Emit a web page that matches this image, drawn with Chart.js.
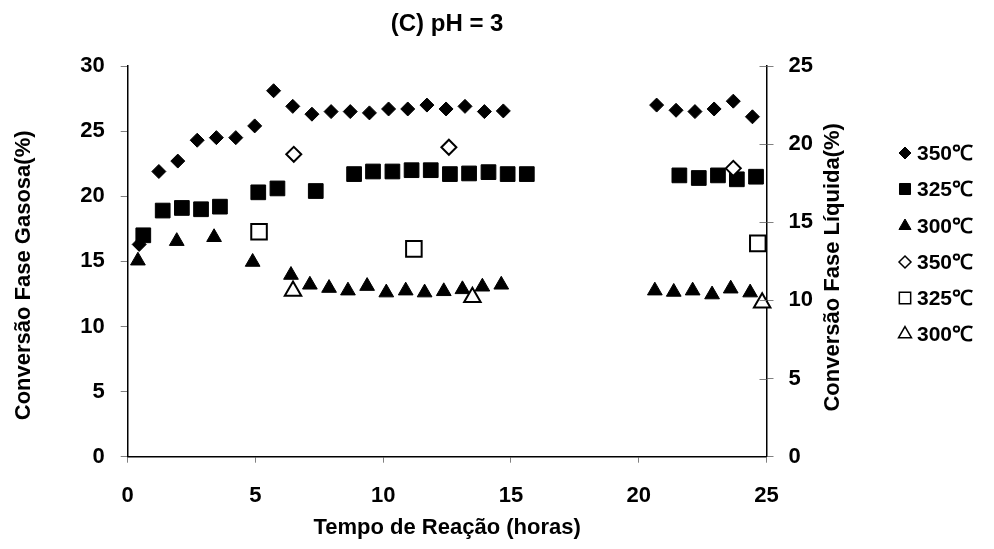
<!DOCTYPE html>
<html>
<head>
<meta charset="utf-8">
<script src="https://cdn.jsdelivr.net/npm/chart.js@4.4.0/dist/chart.umd.min.js"></script>
<style>
  html, body { margin: 0; padding: 0; background: #fff; }
  #wrap { width: 994px; height: 549px; }
</style>
</head>
<body>
<div id="wrap"><canvas id="chart" width="994" height="549"></canvas></div>
<script>
// gas phase conversion (left axis), filled markers
const gasTime350 = [0.45, 1.22, 1.96, 2.72, 3.47, 4.23, 4.97, 5.71, 6.46, 7.21, 7.96, 8.71, 9.46, 10.21, 10.96, 11.71, 12.46, 13.2, 13.96, 14.7, 20.7, 21.46, 22.2, 22.95, 23.7, 24.45];
const gasConv350 = [16.3, 21.9, 22.7, 24.3, 24.5, 24.5, 25.4, 28.1, 26.9, 26.3, 26.5, 26.5, 26.4, 26.7, 26.7, 27.0, 26.7, 26.9, 26.5, 26.55, 27.0, 26.6, 26.5, 26.7, 27.3, 26.1];

const gasTime325 = [0.61, 1.37, 2.12, 2.87, 3.61, 5.11, 5.86, 7.36, 8.86, 9.6, 10.36, 11.11, 11.86, 12.61, 13.36, 14.12, 14.87, 15.62, 21.59, 22.35, 23.1, 23.84, 24.59];
const gasConv325 = [17.0, 18.9, 19.1, 19.0, 19.2, 20.3, 20.6, 20.4, 21.7, 21.9, 21.9, 22.0, 22.0, 21.7, 21.75, 21.85, 21.7, 21.7, 21.6, 21.4, 21.6, 21.3, 21.5];

const gasTime300 = [0.4, 1.92, 3.38, 4.89, 6.39, 7.13, 7.88, 8.62, 9.37, 10.12, 10.88, 11.62, 12.37, 13.1, 13.88, 14.62, 20.63, 21.37, 22.11, 22.87, 23.6, 24.36];
const gasConv300 = [15.05, 16.55, 16.85, 14.95, 13.95, 13.2, 12.95, 12.75, 13.1, 12.6, 12.75, 12.6, 12.7, 12.85, 13.05, 13.2, 12.75, 12.65, 12.75, 12.45, 12.9, 12.6];

// liquid phase conversion (right axis), hollow markers
const liqTime350 = [6.5, 12.57, 23.7];
const liqConv350 = [19.35, 19.8, 18.45];
const liqTime325 = [5.14, 11.2, 24.66];
const liqConv325 = [14.4, 13.3, 13.65];
const liqTime300 = [6.47, 13.49, 24.83];
const liqConv300 = [10.6, 10.2, 9.85];

const legendLabels = ['350℃', '325℃', '300℃', '350℃', '325℃', '300℃'];
const xTicks = [0, 5, 10, 15, 20, 25];
const leftTicks = [0, 5, 10, 15, 20, 25, 30];
const rightTicks = [0, 5, 10, 15, 20, 25];

const chartTitle = '(C) pH = 3';
const xTitle = 'Tempo de Reação (horas)';
const leftTitle = 'Conversão Fase Gasosa(%)';
const rightTitle = 'Conversão Fase Líquida(%)';

const FONT = '"Liberation Sans", Arial, Helvetica, sans-serif';

function toPoints(xs, ys) {
    return xs.map((x, i) => ({ x: x, y: ys[i] }));
}

function filled(label, xs, ys, style, radius) {
    return {
        label: label,
        data: toPoints(xs, ys),
        yAxisID: 'y',
        pointStyle: style,
        pointRadius: radius,
        backgroundColor: '#000',
        borderColor: '#000',
        borderWidth: 1,
        showLine: false,
        clip: false,
        order: 1
    };
}

function hollow(label, xs, ys, style, radius) {
    return {
        label: label,
        data: toPoints(xs, ys),
        yAxisID: 'y2',
        pointStyle: style,
        pointRadius: radius,
        backgroundColor: '#fff',
        borderColor: '#000',
        borderWidth: 2,
        showLine: false,
        clip: false,
        order: 0
    };
}

const datasets = [
    filled(legendLabels[0], gasTime350, gasConv350, 'rectRot', 7),
    filled(legendLabels[1], gasTime325, gasConv325, 'rect', 10.4),
    filled(legendLabels[2], gasTime300, gasConv300, 'triangle', 8.5),
    hollow(legendLabels[3], liqTime350, liqConv350, 'rectRot', 7.5),
    hollow(legendLabels[4], liqTime325, liqConv325, 'rect', 11),
    hollow(legendLabels[5], liqTime300, liqConv300, 'triangle', 9.5)
];

// title, axis titles, legend and the inner half of the right axis ticks
const decorations = {
    id: 'decorations',
    afterDraw(chart) {
        const { ctx, chartArea: area, scales } = chart;
        ctx.save();

        ctx.strokeStyle = '#808080';
        ctx.lineWidth = 1;
        rightTicks.forEach(v => {
            const y = Math.round(scales.y2.getPixelForValue(v)) + 0.5;
            ctx.beginPath();
            ctx.moveTo(area.right - 7, y);
            ctx.lineTo(area.right, y);
            ctx.stroke();
        });

        ctx.fillStyle = '#000';
        ctx.textAlign = 'center';
        ctx.textBaseline = 'middle';
        const midX = (area.left + area.right) / 2;
        const midY = (area.top + area.bottom) / 2;

        ctx.font = 'bold 24px ' + FONT;
        ctx.fillText(chartTitle, midX, 24);

        ctx.font = 'bold 22px ' + FONT;
        ctx.fillText(xTitle, midX, 528);

        ctx.save();
        ctx.translate(24, midY + 14);
        ctx.rotate(-Math.PI / 2);
        ctx.fillText(leftTitle, 0, 0);
        ctx.restore();

        ctx.save();
        ctx.translate(833, midY + 6);
        ctx.rotate(-Math.PI / 2);
        ctx.fillText(rightTitle, 0, 0);
        ctx.restore();

        // legend
        const rowY = [153, 189, 226, 262, 298, 334];
        const legendSizes = [6, 7.8, 7, 6, 8, 7.5];
        ctx.font = 'bold 21px ' + FONT;
        ctx.textAlign = 'left';
        datasets.forEach((ds, i) => {
            const hollowMark = i >= 3;
            ctx.fillStyle = hollowMark ? '#fff' : '#000';
            ctx.strokeStyle = '#000';
            ctx.lineWidth = hollowMark ? 1.5 : 1;
            Chart.helpers.drawPoint(ctx, {
                pointStyle: ds.pointStyle,
                radius: legendSizes[i],
                rotation: 0,
                borderWidth: ctx.lineWidth
            }, 905, rowY[i]);
            ctx.fillStyle = '#000';
            ctx.fillText(ds.label, 917, rowY[i] + 1);
        });

        ctx.restore();
    }
};

const tickFont = { family: FONT, size: 22, weight: 'bold' };

new Chart(document.getElementById('chart'), {
    type: 'scatter',
    data: { datasets: datasets },
    options: {
        responsive: false,
        animation: false,
        events: [],
        layout: { padding: { top: 66, left: 0, right: 0, bottom: 0 } },
        plugins: {
            legend: { display: false },
            title: { display: false },
            tooltip: { enabled: false }
        },
        scales: {
            x: {
                type: 'linear',
                position: 'bottom',
                min: 0,
                max: 25,
                afterBuildTicks: s => { s.ticks = xTicks.map(v => ({ value: v })); },
                ticks: { font: tickFont, color: '#000', padding: 20, maxRotation: 0 },
                grid: { drawOnChartArea: false, drawTicks: true, tickLength: 6, tickColor: '#808080' },
                border: { color: '#000', width: 1.5 },
                afterFit: s => { s.height = 92.3; }
            },
            y: {
                type: 'linear',
                position: 'left',
                min: 0,
                max: 30,
                afterBuildTicks: s => { s.ticks = leftTicks.map(v => ({ value: v })); },
                ticks: { font: tickFont, color: '#000', padding: 16 },
                grid: { drawOnChartArea: false, drawTicks: true, tickLength: 7, tickColor: '#808080' },
                border: { color: '#000', width: 1.5 },
                afterFit: s => { s.width = 127.7; }
            },
            y2: {
                type: 'linear',
                position: 'right',
                min: 0,
                max: 25,
                afterBuildTicks: s => { s.ticks = rightTicks.map(v => ({ value: v })); },
                ticks: { font: tickFont, color: '#000', padding: 15 },
                grid: { drawOnChartArea: false, drawTicks: true, tickLength: 7, tickColor: '#808080' },
                border: { color: '#000', width: 1.5 },
                afterFit: s => { s.width = 227.5; }
            }
        }
    },
    plugins: [decorations]
});
</script>
</body>
</html>
